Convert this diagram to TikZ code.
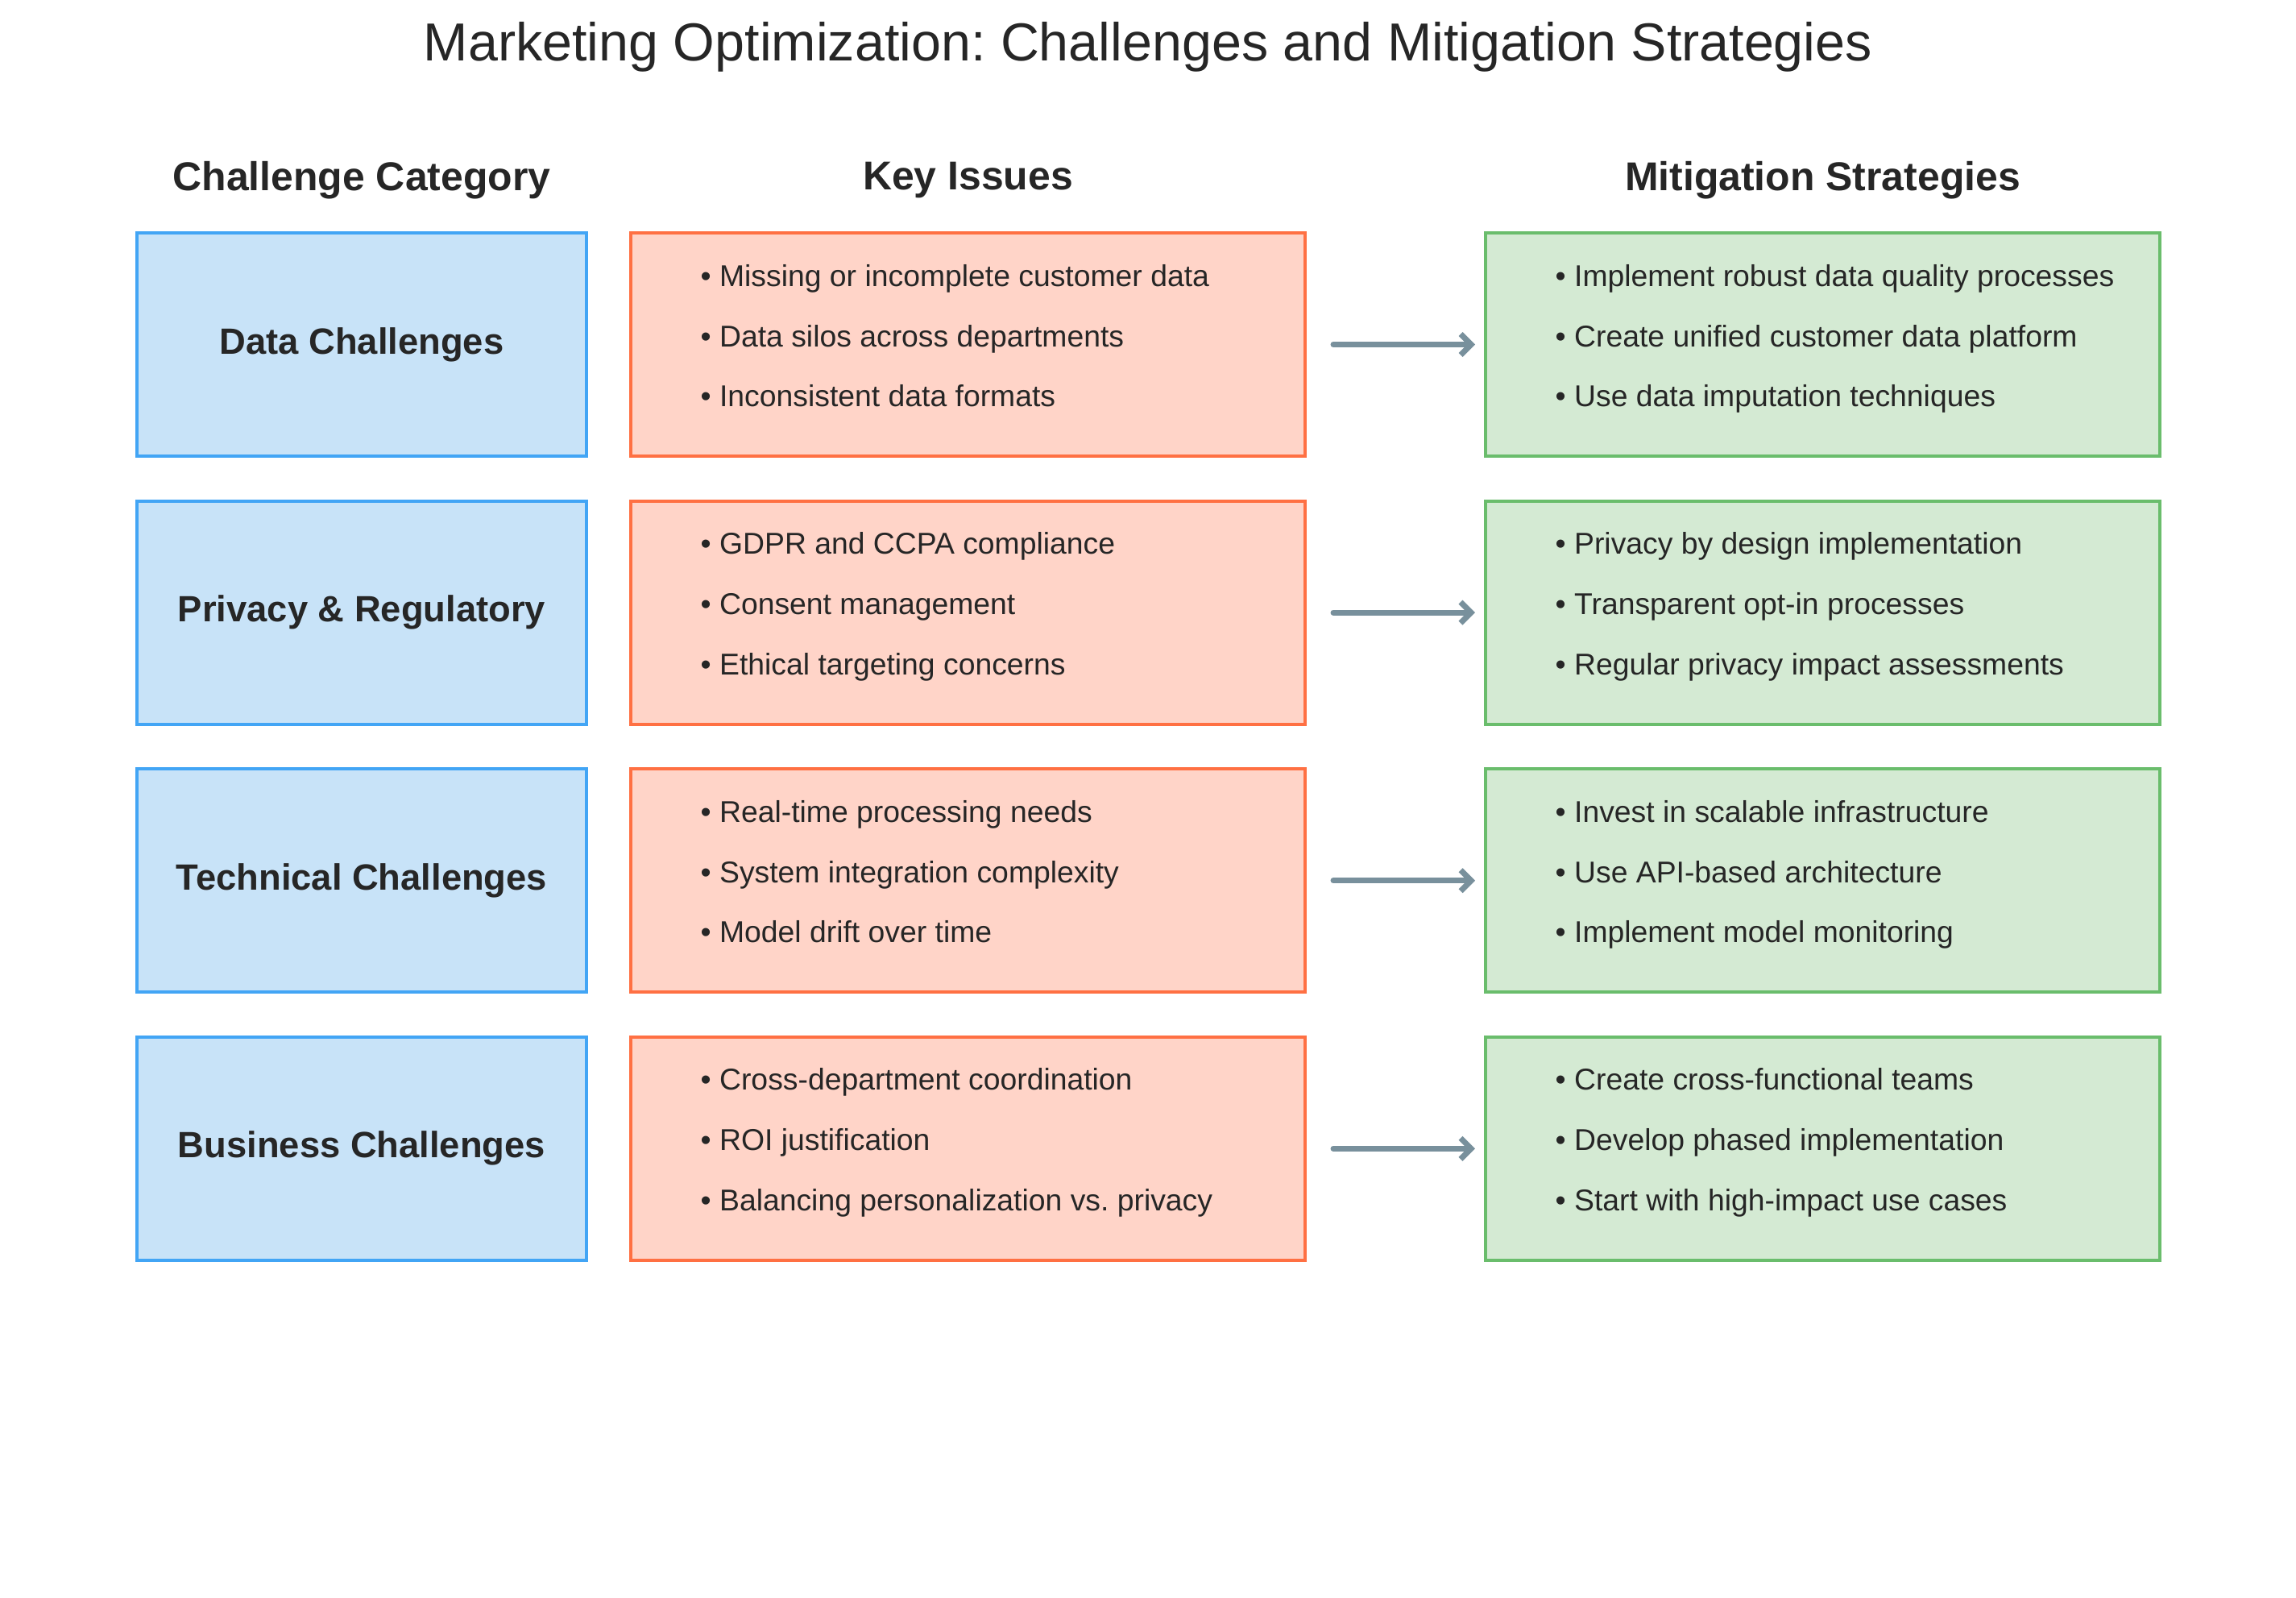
\documentclass[tikz,border=0pt]{standalone}
\usepackage{fontspec}
\setmainfont{Liberation Sans}
\frenchspacing
\usetikzlibrary{positioning,arrows.meta}
\definecolor{ink}{HTML}{262626}
\definecolor{catfill}{HTML}{C8E3F8}
\definecolor{catline}{HTML}{42A5F5}
\definecolor{issfill}{HTML}{FFD4C8}
\definecolor{issline}{HTML}{FF7043}
\definecolor{strfill}{HTML}{D4EAD3}
\definecolor{strline}{HTML}{6ABD6C}
\definecolor{arrgray}{HTML}{78909C}

\begin{document}
\begin{tikzpicture}[
    cat/.style={draw=catline, fill=catfill, line width=1.1pt, outer sep=0pt,
      minimum width=5.58cm, minimum height=2.77cm, text=ink,
      font=\fontsize{12.9}{15}\selectfont\bfseries},
    issue/.style={cat, draw=issline, fill=issfill, minimum width=8.37cm},
    strat/.style={cat, draw=strline, fill=strfill, minimum width=8.37cm},
    item/.style={anchor=base west, inner sep=0pt, text=ink,
      font=\fontsize{10.62}{13}\selectfont},
    head/.style={text=ink, font=\fontsize{14.2}{17}\selectfont\bfseries},
    arr/.style={draw=arrgray, line width=2pt, line cap=round,
      -{Straight Barb[length=1.3mm,width=2.6mm]},
      shorten <=0.35cm, shorten >=0.13cm}
  ]
  \useasboundingbox (0,0) rectangle (28.5,-19.82);

  \node[text=ink, font=\fontsize{18.9}{22}\selectfont] (title) at (14.25,-0.58)
    {Marketing Optimization: Challenges and Mitigation Strategies};

  % category column
  \node[cat] (data) at (4.49,-4.275) {Data Challenges};
  \node[cat, below=0.556cm of data] (privacy) {Privacy \& Regulatory};
  \node[cat, below=0.556cm of privacy] (tech) {Technical Challenges};
  \node[cat, below=0.556cm of tech] (business) {Business Challenges};

  % issue and strategy columns
  \node[issue, right=0.55cm of data] (dataiss) {};
  \node[issue, right=0.55cm of privacy] (privacyiss) {};
  \node[issue, right=0.55cm of tech] (techiss) {};
  \node[issue, right=0.55cm of business] (businessiss) {};
  \node[strat, right=2.24cm of dataiss] (datastr) {};
  \node[strat, right=2.24cm of privacyiss] (privacystr) {};
  \node[strat, right=2.24cm of techiss] (techstr) {};
  \node[strat, right=2.24cm of businessiss] (businessstr) {};

  % column heads
  \node[head] (hcat) at ([yshift=0.655cm]data.north) {Challenge Category};
  \node[head] (hiss) at ([yshift=0.655cm]dataiss.north) {Key Issues};
  \node[head] (hstr) at ([yshift=0.655cm]datastr.north) {Mitigation Strategies};

  % key issues
  \node[item] (dataiss1) at ([xshift=0.86cm,yshift=0.725cm]dataiss.west) {• Missing or incomplete customer data};
  \node[item] (dataiss2) at ([xshift=0.86cm,yshift=-0.025cm]dataiss.west) {• Data silos across departments};
  \node[item] (dataiss3) at ([xshift=0.86cm,yshift=-0.77cm]dataiss.west) {• Inconsistent data formats};
  \node[item] (privacyiss1) at ([xshift=0.86cm,yshift=0.725cm]privacyiss.west) {• GDPR and CCPA compliance};
  \node[item] (privacyiss2) at ([xshift=0.86cm,yshift=-0.025cm]privacyiss.west) {• Consent management};
  \node[item] (privacyiss3) at ([xshift=0.86cm,yshift=-0.77cm]privacyiss.west) {• Ethical targeting concerns};
  \node[item] (techiss1) at ([xshift=0.86cm,yshift=0.725cm]techiss.west) {• Real-time processing needs};
  \node[item] (techiss2) at ([xshift=0.86cm,yshift=-0.025cm]techiss.west) {• System integration complexity};
  \node[item] (techiss3) at ([xshift=0.86cm,yshift=-0.77cm]techiss.west) {• Model drift over time};
  \node[item] (businessiss1) at ([xshift=0.86cm,yshift=0.725cm]businessiss.west) {• Cross-department coordination};
  \node[item] (businessiss2) at ([xshift=0.86cm,yshift=-0.025cm]businessiss.west) {• ROI justification};
  \node[item] (businessiss3) at ([xshift=0.86cm,yshift=-0.77cm]businessiss.west) {• Balancing personalization vs. privacy};

  % mitigation strategies
  \node[item] (datastr1) at ([xshift=0.86cm,yshift=0.725cm]datastr.west) {• Implement robust data quality processes};
  \node[item] (datastr2) at ([xshift=0.86cm,yshift=-0.025cm]datastr.west) {• Create unified customer data platform};
  \node[item] (datastr3) at ([xshift=0.86cm,yshift=-0.77cm]datastr.west) {• Use data imputation techniques};
  \node[item] (privacystr1) at ([xshift=0.86cm,yshift=0.725cm]privacystr.west) {• Privacy by design implementation};
  \node[item] (privacystr2) at ([xshift=0.86cm,yshift=-0.025cm]privacystr.west) {• Transparent opt-in processes};
  \node[item] (privacystr3) at ([xshift=0.86cm,yshift=-0.77cm]privacystr.west) {• Regular privacy impact assessments};
  \node[item] (techstr1) at ([xshift=0.86cm,yshift=0.725cm]techstr.west) {• Invest in scalable infrastructure};
  \node[item] (techstr2) at ([xshift=0.86cm,yshift=-0.025cm]techstr.west) {• Use API-based architecture};
  \node[item] (techstr3) at ([xshift=0.86cm,yshift=-0.77cm]techstr.west) {• Implement model monitoring};
  \node[item] (businessstr1) at ([xshift=0.86cm,yshift=0.725cm]businessstr.west) {• Create cross-functional teams};
  \node[item] (businessstr2) at ([xshift=0.86cm,yshift=-0.025cm]businessstr.west) {• Develop phased implementation};
  \node[item] (businessstr3) at ([xshift=0.86cm,yshift=-0.77cm]businessstr.west) {• Start with high-impact use cases};

  \draw[arr] (dataiss) -- (datastr);
  \draw[arr] (privacyiss) -- (privacystr);
  \draw[arr] (techiss) -- (techstr);
  \draw[arr] (businessiss) -- (businessstr);
\end{tikzpicture}
\end{document}
